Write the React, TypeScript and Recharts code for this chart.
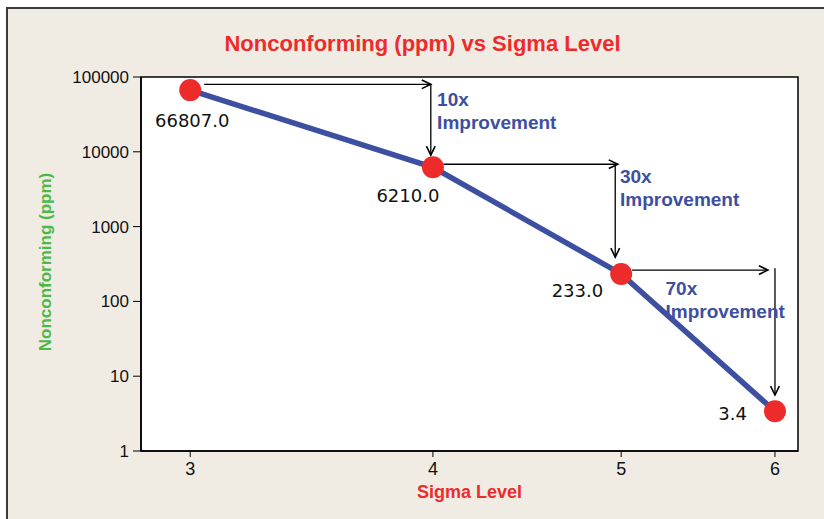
import {
  LineChart,
  Line,
  XAxis,
  YAxis,
  ReferenceLine,
  ReferenceDot,
  ReferenceArea,
  LabelList,
  Label,
} from 'recharts';

// values
const sigmaLevels = [3, 4, 5, 6];
const ppmValues = [66807, 6210, 233, 3.4];
const xTicks = [3, 4, 5, 6];
const yTicks = [1, 10, 100, 1000, 10000, 100000];
const xDomain: [number, number] = [2.83, 6.166];
const yDomain: [number, number] = [1, 100000];

// arrows, [from, to] in data units (sigma, ppm)
const arrowSegments = [
  [[3.05, 79900], [3.99, 79900]],
  [[3.99, 79900], [3.99, 9000]],
  [[4.05, 6820], [4.98, 6820]],
  [[4.965, 6820], [4.965, 390]],
  [[5.065, 262], [5.95, 262]],
  [[6.0, 278], [6.0, 5.6]],
];

const improvementFactors = ['10x', '30x', '70x'];
const improvementAnchors = [
  [4.02, 40900],
  [4.993, 3830],
  [5.27, 122],
];

const chartData = sigmaLevels.map((sigma, i) => ({ sigma, ppm: ppmValues[i] }));

const RED = '#ee2b2b';
const BLUE = '#3c4fa0';
const GREEN = '#4cb848';
const BEIGE = '#f0ece3';
const tickFont = { fontFamily: '"Liberation Sans", Arial, sans-serif', fill: '#111' };

// where each value label sits relative to its point
const valueLabelPlacement = [
  { anchor: 'middle', dx: 2, dy: 37 },
  { anchor: 'middle', dx: -25, dy: 35 },
  { anchor: 'end', dx: -18, dy: 23 },
  { anchor: 'end', dx: -28, dy: 9 },
];

const renderArrow = (props: any) => {
  const { x1, y1, x2, y2 } = props;
  const ang = Math.atan2(y2 - y1, x2 - x1);
  const len = 10;
  const spread = 0.45;
  const ax = x2 - len * Math.cos(ang - spread);
  const ay = y2 - len * Math.sin(ang - spread);
  const bx = x2 - len * Math.cos(ang + spread);
  const by = y2 - len * Math.sin(ang + spread);
  return (
    <g>
      <line x1={x1} y1={y1} x2={x2} y2={y2} stroke="#000" strokeWidth={1.3} />
      <polyline
        points={`${ax},${ay} ${x2},${y2} ${bx},${by}`}
        fill="none"
        stroke="#000"
        strokeWidth={1.6}
      />
    </g>
  );
};

const renderValueLabel = (props: any) => {
  const { x, y, value, index } = props;
  const p = valueLabelPlacement[index];
  return (
    <text
      x={x + p.dx}
      y={y + p.dy}
      textAnchor={p.anchor}
      fontFamily='"DejaVu Sans", Verdana, sans-serif'
      fontSize={18}
      fill="#111"
    >
      {Number(value).toFixed(1)}
    </text>
  );
};

const improvementLabel = (factor: string) => (props: any) => {
  const { viewBox } = props;
  const x = viewBox.x + viewBox.width / 2;
  const y = viewBox.y + viewBox.height / 2;
  return (
    <text
      x={x}
      y={y}
      fontFamily='"Liberation Sans", Arial, sans-serif'
      fontWeight="bold"
      fontSize={19}
      fill={BLUE}
    >
      <tspan x={x}>{factor}</tspan>
      <tspan x={x} dy={23}>Improvement</tspan>
    </text>
  );
};

export default function App() {
  return (
    <div
      style={{
        position: 'fixed',
        left: 0,
        top: 0,
        width: 824,
        height: 519,
        overflow: 'hidden',
        background: '#fff',
      }}
    >
      <div
        style={{
          position: 'absolute',
          left: 6,
          top: 7,
          width: 840,
          height: 540,
          background: BEIGE,
          borderLeft: '2px solid #3c3c3c',
          borderTop: '2px solid #3c3c3c',
        }}
      />
      <div
        style={{
          position: 'absolute',
          left: 0,
          top: 33,
          width: 845,
          textAlign: 'center',
          fontFamily: '"Liberation Sans", Arial, sans-serif',
          fontWeight: 'bold',
          fontSize: 22,
          lineHeight: '22px',
          color: RED,
          whiteSpace: 'nowrap',
        }}
      >
        Nonconforming (ppm) vs Sigma Level
      </div>
      <div style={{ position: 'absolute', left: 0, top: 0 }}>
        <LineChart
          width={824}
          height={519}
          data={chartData}
          margin={{ top: 77, right: 26, bottom: 0, left: 0 }}
        >
          <ReferenceArea
            x1={xDomain[0]}
            x2={xDomain[1]}
            y1={yDomain[0]}
            y2={yDomain[1]}
            fill="#fff"
            fillOpacity={1}
            stroke="#000"
            strokeWidth={1.5}
            ifOverflow="visible"
          />
          <XAxis
            dataKey="sigma"
            type="number"
            scale="log"
            domain={xDomain}
            ticks={xTicks}
            allowDataOverflow
            height={68}
            tickSize={6}
            tickMargin={5}
            tick={{ ...tickFont, fontSize: 18 }}
            tickLine={{ stroke: '#000' }}
            axisLine={{ stroke: '#000', strokeWidth: 1.5 }}
          >
            <Label
              content={(props: any) => {
                const vb = props.viewBox;
                return (
                  <text
                    x={vb.x + vb.width / 2}
                    y={vb.y + 47}
                    textAnchor="middle"
                    fontFamily='"Liberation Sans", Arial, sans-serif'
                    fontWeight="bold"
                    fontSize={18}
                    fill={RED}
                  >
                    Sigma Level
                  </text>
                );
              }}
            />
          </XAxis>
          <YAxis
            type="number"
            scale="log"
            domain={yDomain}
            ticks={yTicks}
            allowDataOverflow
            width={141}
            tickSize={8}
            tickMargin={4}
            tick={{ ...tickFont, fontSize: 17 }}
            tickLine={{ stroke: '#000' }}
            axisLine={{ stroke: '#000', strokeWidth: 1.5 }}
          >
            <Label
              content={(props: any) => {
                const vb = props.viewBox;
                const x = vb.x + 50.5;
                const y = 262;
                return (
                  <text
                    x={x}
                    y={y}
                    textAnchor="middle"
                    transform={`rotate(-90, ${x}, ${y})`}
                    fontFamily='"Liberation Sans", Arial, sans-serif'
                    fontWeight="bold"
                    fontSize={17}
                    fill={GREEN}
                  >
                    Nonconforming (ppm)
                  </text>
                );
              }}
            />
          </YAxis>
          {arrowSegments.map((seg, i) => (
            <ReferenceLine
              key={`arrow-${i}`}
              segment={[
                { x: seg[0][0], y: seg[0][1] },
                { x: seg[1][0], y: seg[1][1] },
              ]}
              ifOverflow="visible"
              shape={renderArrow}
            />
          ))}
          <Line
            dataKey="ppm"
            type="linear"
            stroke={BLUE}
            strokeWidth={5.5}
            dot={{ r: 11, fill: RED, stroke: 'none', fillOpacity: 1 }}
            activeDot={false}
            isAnimationActive={false}
          >
            <LabelList dataKey="ppm" content={renderValueLabel} />
          </Line>
          {improvementAnchors.map((a, i) => (
            <ReferenceDot
              key={`imp-${i}`}
              x={a[0]}
              y={a[1]}
              r={0}
              fill="none"
              stroke="none"
              ifOverflow="visible"
              label={improvementLabel(improvementFactors[i])}
            />
          ))}
        </LineChart>
      </div>
    </div>
  );
}
